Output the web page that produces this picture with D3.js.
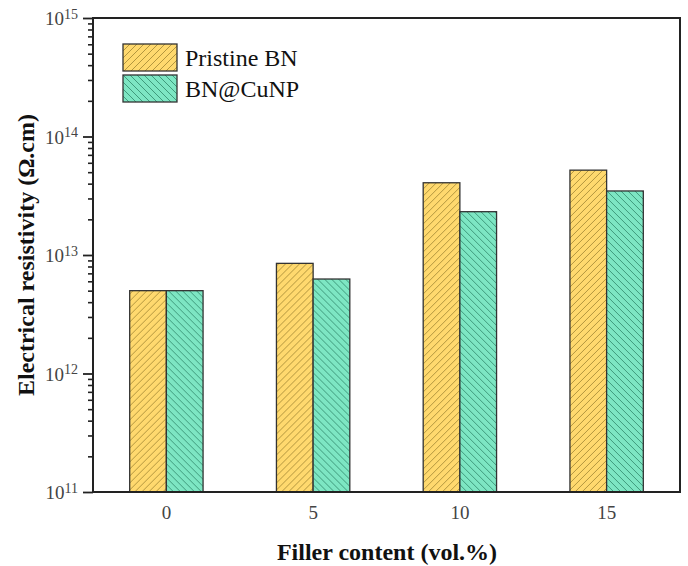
<!DOCTYPE html>
<html>
<head>
<meta charset="utf-8">
<script src="https://cdn.jsdelivr.net/npm/d3@7"></script>
<style>
  body { margin: 0; background: #fff; }
  svg { display: block; }
</style>
</head>
<body>
<script>
// chart data
var categories = ['0', '5', '10', '15'];
var seriesNames = ['Pristine BN', 'BN@CuNP'];
var pristine = [5.0e12, 8.5e12, 4.07e13, 5.2e13];
var cunp = [5.0e12, 6.27e12, 2.32e13, 3.47e13];
var yMajorTicks = [1e11, 1e12, 1e13, 1e14, 1e15];

var w = 688, h = 566;
var plotLeft = 93, plotRight = 680, plotTop = 18, plotBottom = 492;
var fills = ['#ffd96e', '#7de6c3'];
var hatch = ['#b3963e', '#3f9a7b'];
var serif = 'Liberation Serif, Times New Roman, serif';

var svg = d3.select('body')
  .append('svg')
  .attr('width', w)
  .attr('height', h);

// hatch patterns
var defs = svg.append('defs');
var p0 = defs.append('pattern')
  .attr('id', 'hatch0')
  .attr('patternUnits', 'userSpaceOnUse')
  .attr('width', 7).attr('height', 7);
p0.append('rect').attr('width', 7).attr('height', 7).attr('fill', fills[0]);
p0.append('path')
  .attr('d', 'M0,7 L7,0 M-1,1 L1,-1 M6,8 L8,6')
  .attr('stroke', hatch[0]).attr('stroke-width', 1);

var p1 = defs.append('pattern')
  .attr('id', 'hatch1')
  .attr('patternUnits', 'userSpaceOnUse')
  .attr('width', 7).attr('height', 7);
p1.append('rect').attr('width', 7).attr('height', 7).attr('fill', fills[1]);
p1.append('path')
  .attr('d', 'M0,0 L7,7 M-1,6 L1,8 M6,-1 L8,1')
  .attr('stroke', hatch[1]).attr('stroke-width', 1);

var x = d3.scaleBand()
  .domain(categories)
  .range([plotLeft, plotRight])
  .paddingInner(0.5)
  .paddingOuter(0.25);

var xSub = d3.scaleBand()
  .domain([0, 1])
  .range([0, x.bandwidth()]);

var y = d3.scaleLog()
  .domain([1e11, 1e15])
  .range([plotBottom, plotTop]);

// bars
var rows = categories.map(function (c, i) {
  return { cat: c, vals: [pristine[i], cunp[i]] };
});

var groups = svg.selectAll('g.grp').data(rows)
  .enter()
  .append('g')
  .attr('class', 'grp')
  .attr('transform', function (d) { return 'translate(' + x(d.cat) + ',0)'; });

groups.selectAll('rect').data(function (d) { return d.vals; })
  .enter()
  .append('rect')
  .attr('x', function (d, i) { return xSub(i); })
  .attr('y', function (d) { return y(d); })
  .attr('width', xSub.bandwidth())
  .attr('height', function (d) { return plotBottom - y(d); })
  .attr('fill', function (d, i) { return 'url(#hatch' + i + ')'; })
  .attr('stroke', '#333')
  .attr('stroke-width', 1.3);

// minor ticks on the y axis
var minor = [];
for (var e = 11; e < 15; e++) {
  for (var m = 2; m <= 9; m++) minor.push(m * Math.pow(10, e));
}
svg.append('g')
  .attr('transform', 'translate(' + plotLeft + ',0)')
  .call(d3.axisLeft(y).tickValues(minor).tickSize(5).tickFormat(''))
  .call(function (g) {
    g.select('.domain').remove();
    g.selectAll('line').attr('stroke', '#222').attr('stroke-width', 1.6);
  });

// major ticks
var yAxis = svg.append('g')
  .attr('transform', 'translate(' + plotLeft + ',0)')
  .call(d3.axisLeft(y).tickValues(yMajorTicks).tickSize(10).tickPadding(5)
    .tickFormat(function (d) { return Math.round(Math.log10(d)); }));
yAxis.select('.domain').remove();
yAxis.selectAll('line').attr('stroke', '#222').attr('stroke-width', 1.8);
yAxis.selectAll('text')
  .attr('font-family', serif)
  .attr('font-size', 19)
  .attr('fill', '#444')
  .attr('dy', '0.35em')
  .each(function (d) {
    var t = d3.select(this);
    var ex = t.text();
    t.text('');
    t.append('tspan').text('10');
    t.append('tspan').attr('dy', '-0.45em').attr('font-size', 14).text(ex);
  });

// x axis labels
var xAxis = svg.append('g')
  .attr('transform', 'translate(0,' + plotBottom + ')')
  .call(d3.axisBottom(x).tickSize(0).tickPadding(14));
xAxis.select('.domain').remove();
xAxis.selectAll('text')
  .attr('font-family', serif)
  .attr('font-size', 19)
  .attr('fill', '#444');

// frame
svg.append('rect')
  .attr('x', plotLeft)
  .attr('y', plotTop)
  .attr('width', plotRight - plotLeft)
  .attr('height', plotBottom - plotTop)
  .attr('fill', 'none')
  .attr('stroke', '#222')
  .attr('stroke-width', 2);

// axis titles
svg.append('text')
  .attr('x', 387)
  .attr('y', 560)
  .attr('text-anchor', 'middle')
  .attr('font-family', serif)
  .attr('font-weight', 'bold')
  .attr('font-size', 24)
  .attr('fill', '#111')
  .text('Filler content (vol.%)');

svg.append('text')
  .attr('transform', 'translate(34,' + ((plotTop + plotBottom) / 2) + ') rotate(-90)')
  .attr('text-anchor', 'middle')
  .attr('font-family', serif)
  .attr('font-weight', 'bold')
  .attr('font-size', 24)
  .attr('fill', '#111')
  .text('Electrical resistivity (\u03A9.cm)');

// legend
var legend = svg.selectAll('g.leg').data(seriesNames)
  .enter()
  .append('g')
  .attr('class', 'leg')
  .attr('transform', function (d, i) { return 'translate(123,' + (44 + i * 31) + ')'; });

legend.append('rect')
  .attr('width', 54)
  .attr('height', 27)
  .attr('fill', function (d, i) { return 'url(#hatch' + i + ')'; })
  .attr('stroke', '#333')
  .attr('stroke-width', 1.3);

legend.append('text')
  .attr('x', 62)
  .attr('y', 22)
  .attr('font-family', serif)
  .attr('font-size', 24)
  .attr('fill', '#111')
  .text(function (d) { return d; });
</script>
</body>
</html>
